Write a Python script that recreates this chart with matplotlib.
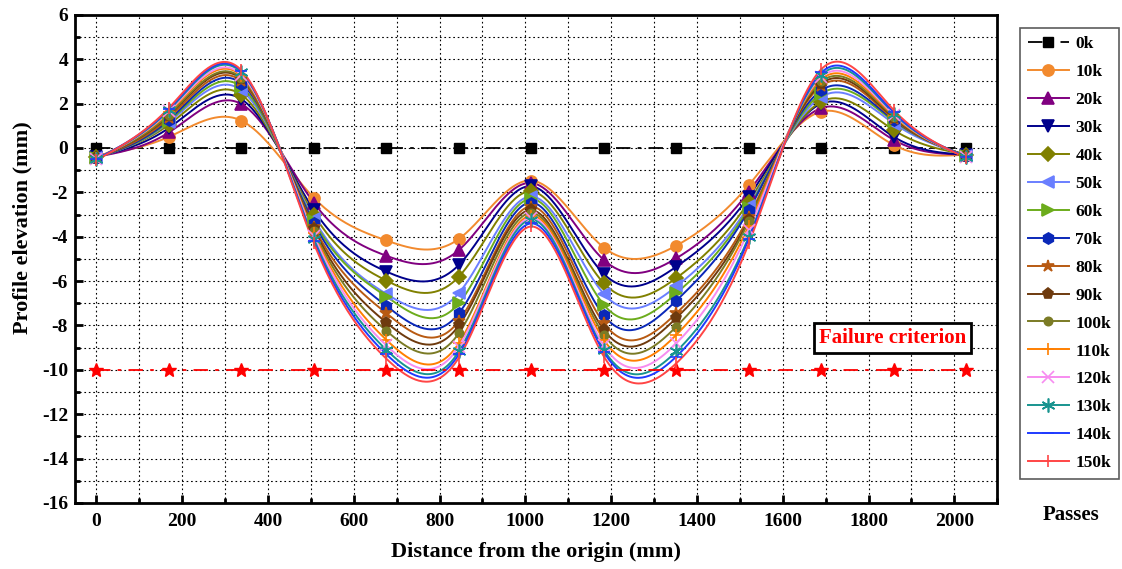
import numpy as np
import matplotlib
matplotlib.use('Agg')
import matplotlib.pyplot as plt
from matplotlib.ticker import MultipleLocator

plt.rcParams['font.family'] = ['Liberation Serif', 'DejaVu Serif']
plt.rcParams['font.weight'] = 'bold'
plt.rcParams['axes.unicode_minus'] = False

# Measurement positions along the profile (mm)
distance = [0, 169, 338, 507, 676, 845, 1014, 1183, 1352, 1521, 1690, 1859, 2028]

# Profile elevation (mm) for each number of passes
passes_0k = [0, 0, 0, 0, 0, 0, 0, 0, 0, 0, 0, 0, 0]
passes_10k = [-0.35, 0.5, 1.23, -2.25, -4.17, -4.1, -1.47, -4.49, -4.4, -1.67, 1.64, 0.13, -0.3]
passes_20k = [-0.4, 0.7, 1.98, -2.48, -4.86, -4.6, -1.58, -5.05, -4.97, -1.97, 1.8, 0.36, -0.3]
passes_30k = [-0.4, 0.9, 2.2, -2.8, -5.57, -5.27, -1.73, -5.68, -5.35, -2.19, 2.0, 0.5, -0.3]
passes_40k = [-0.4, 1.05, 2.4, -3.0, -5.98, -5.8, -1.96, -6.1, -5.86, -2.42, 2.09, 0.8, -0.3]
passes_50k = [-0.45, 1.15, 2.6, -3.2, -6.58, -6.54, -2.19, -6.58, -6.24, -2.6, 2.3, 1.1, -0.35]
passes_60k = [-0.45, 1.2, 2.75, -3.3, -6.7, -7.0, -2.3, -7.07, -6.55, -2.7, 2.45, 1.2, -0.35]
passes_70k = [-0.45, 1.26, 2.9, -3.4, -7.12, -7.45, -2.46, -7.55, -6.88, -2.8, 2.6, 1.25, -0.35]
passes_80k = [-0.45, 1.35, 3.0, -3.55, -7.45, -7.8, -2.64, -7.9, -7.45, -3.1, 2.8, 1.3, -0.35]
passes_90k = [-0.45, 1.45, 3.1, -3.65, -7.87, -8.0, -2.8, -8.2, -7.66, -3.24, 2.9, 1.35, -0.35]
passes_100k = [-0.45, 1.5, 3.15, -3.75, -8.24, -8.35, -2.93, -8.42, -8.05, -3.3, 3.0, 1.4, -0.35]
passes_110k = [-0.45, 1.6, 3.25, -3.85, -8.65, -8.8, -3.05, -8.65, -8.42, -3.5, 3.1, 1.45, -0.4]
passes_120k = [-0.5, 1.65, 3.3, -3.95, -8.9, -8.95, -3.15, -8.9, -8.8, -3.7, 3.2, 1.5, -0.4]
passes_130k = [-0.5, 1.7, 3.4, -4.1, -9.1, -9.17, -3.24, -9.1, -9.17, -4.0, 3.3, 1.55, -0.4]
passes_140k = [-0.5, 1.75, 3.45, -4.2, -9.3, -9.3, -3.4, -9.2, -9.4, -4.1, 3.4, 1.6, -0.4]
passes_150k = [-0.55, 1.8, 3.5, -4.3, -9.5, -9.45, -3.54, -9.4, -9.7, -4.3, 3.55, 1.7, -0.45]

failure_level = [-10] * 13

labels = ['10k', '20k', '30k', '40k', '50k', '60k', '70k', '80k', '90k',
          '100k', '110k', '120k', '130k', '140k', '150k']
series = [passes_10k, passes_20k, passes_30k, passes_40k, passes_50k, passes_60k,
          passes_70k, passes_80k, passes_90k, passes_100k, passes_110k, passes_120k,
          passes_130k, passes_140k, passes_150k]
colors = ['#F28A2E', '#800080', '#00008B', '#808000', '#6A7FFF', '#6CAC1C', '#0A28B8',
          '#B85A12', '#6E3A0E', '#7B7B25', '#FF7F00', '#F78CF0', '#18948F', '#1F3BFF',
          '#FF4545']
markers = ['o', '^', 'v', 'D', '<', '>', 'h', '*', 'p', 'o', '+', 'x', (6, 2, 0), '_', '|']
msizes = [8, 8, 8, 7, 8, 8, 8, 9, 8, 6, 9, 9, 10, 9, 9]


# natural cubic spline, used only to draw the smooth connecting line
def spline(x, y, num=500):
    x = np.asarray(x, float)
    y = np.asarray(y, float)
    n = len(x)
    h = np.diff(x)
    A = np.zeros((n, n))
    b = np.zeros(n)
    A[0, 0] = 1
    A[-1, -1] = 1
    for i in range(1, n - 1):
        A[i, i - 1] = h[i - 1]
        A[i, i] = 2 * (h[i - 1] + h[i])
        A[i, i + 1] = h[i]
        b[i] = 6 * ((y[i + 1] - y[i]) / h[i] - (y[i] - y[i - 1]) / h[i - 1])
    M = np.linalg.solve(A, b)
    xs = np.linspace(x[0], x[-1], num)
    idx = np.clip(np.searchsorted(x, xs) - 1, 0, n - 2)
    x0, x1 = x[idx], x[idx + 1]
    hh = x1 - x0
    ys = (M[idx] * (x1 - xs) ** 3 / (6 * hh) + M[idx + 1] * (xs - x0) ** 3 / (6 * hh)
          + (y[idx] / hh - M[idx] * hh / 6) * (x1 - xs)
          + (y[idx + 1] / hh - M[idx + 1] * hh / 6) * (xs - x0))
    return xs, ys


fig = plt.figure(figsize=(11.22, 5.69), dpi=100)
ax = fig.add_axes([0.0668, 0.116, 0.822, 0.858])

handles = []
h0, = ax.plot(distance, passes_0k, color='black', linestyle=(0, (8, 4, 2, 4)),
              linewidth=1.3, marker='s', markersize=7, label='0k')
handles.append(h0)

for vals, lab, col, mk, ms in zip(series, labels, colors, markers, msizes):
    xs, ys = spline(distance, vals)
    ax.plot(xs, ys, color=col, linewidth=1.4, zorder=3)
    ax.plot(distance, vals, linestyle='none', marker=mk, color=col, markersize=ms,
            markeredgewidth=1.2, zorder=4)
    h, = ax.plot([], [], color=col, linewidth=1.4, marker=mk, markersize=ms,
                 markeredgewidth=1.2, label=lab)
    handles.append(h)

ax.plot(distance, failure_level, color='red', linestyle=(0, (8, 4, 2, 4)),
        linewidth=1.3, marker='*', markersize=10, zorder=3)

ax.text(1856, -8.56, 'Failure criterion', color='red', fontsize=15, fontweight='bold',
        ha='center', va='center',
        bbox=dict(facecolor='white', edgecolor='black', linewidth=2, boxstyle='square,pad=0.25'))

ax.set_xlim(-50, 2100)
ax.set_ylim(-16, 6)
ax.xaxis.set_major_locator(MultipleLocator(200))
ax.xaxis.set_minor_locator(MultipleLocator(100))
ax.yaxis.set_major_locator(MultipleLocator(2))
ax.yaxis.set_minor_locator(MultipleLocator(1))
ax.grid(which='both', color='black', linestyle=(0, (1.5, 2.5)), linewidth=0.8)
ax.set_axisbelow(True)
ax.tick_params(which='major', direction='in', length=6, width=2, labelsize=14)
ax.tick_params(axis='x', which='major', pad=7)
ax.tick_params(axis='y', which='major', pad=5)
ax.tick_params(which='minor', direction='in', length=3.5, width=2)
for side in ['left', 'bottom', 'right', 'top']:
    ax.spines[side].set_linewidth(2)

ax.set_xlabel('Distance from the origin (mm)', fontsize=16, fontweight='bold')
ax.xaxis.set_label_coords((536 - 75) / 922, (503 - 552) / 488)
ax.set_ylabel('Profile elevation (mm)', fontsize=16, fontweight='bold')
ax.yaxis.set_label_coords((23 - 75) / 922, (503 - 228) / 488)
ax.xaxis.label.set_va('center')
ax.yaxis.label.set_va('center')

leg = fig.legend(handles=handles, loc='upper right',
                 bbox_to_anchor=(1119 / 1122, 1 - 28 / 569),
                 prop={'family': 'Liberation Serif', 'weight': 'bold', 'size': 12.5},
                 frameon=True, fancybox=False, handlelength=2.4, labelspacing=0.68,
                 borderpad=0.45, borderaxespad=0, handletextpad=0.35)
leg.get_frame().set_edgecolor('#333333')
leg.get_frame().set_linewidth(1.2)

fig.text(1071 / 1122, 1 - 515 / 569, 'Passes', fontsize=15, fontweight='bold',
         ha='center', va='center')

fig.savefig('out.png', dpi=100)
